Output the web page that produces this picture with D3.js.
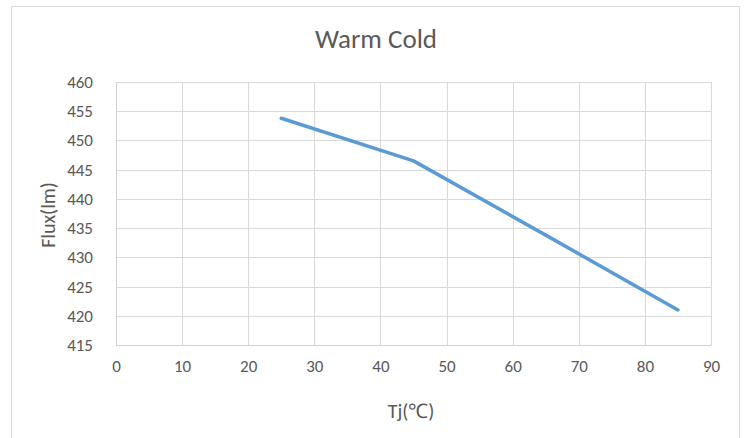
<!DOCTYPE html>
<html>
<head>
<meta charset="utf-8">
<script src="https://cdn.jsdelivr.net/npm/d3@7"></script>
<style>
  html, body { margin: 0; padding: 0; background: #fff; }
  svg { display: block; font-family: Carlito, Calibri, "Liberation Sans", Arial, sans-serif; }
</style>
</head>
<body>
<svg id="chart" width="747" height="438"></svg>
<script>
const chartTitle = "Warm Cold";
const xTitle = "Tj(℃)";
const yTitle = "Flux(lm)";
const tj = [25, 45, 65, 85];
const flux = [453.8, 446.5, 433.8, 421.0];
const xTicks = [0, 10, 20, 30, 40, 50, 60, 70, 80, 90];
const yTicks = [415, 420, 425, 430, 435, 440, 445, 450, 455, 460];

const svg = d3.select("#chart");
const plot = { left: 116, right: 711, top: 82, bottom: 345 };

// chart border
svg.append("rect")
  .attr("x", 11.5).attr("y", 6.5)
  .attr("width", 728).attr("height", 440)
  .attr("fill", "#fff").attr("stroke", "#d9d9d9").attr("stroke-width", 1);

const x = d3.scaleLinear().domain([0, 90]).range([plot.left, plot.right]);
const y = d3.scaleLinear().domain([415, 460]).range([plot.bottom, plot.top]);

// gridlines
const grid = svg.append("g").attr("stroke", "#d9d9d9").attr("stroke-width", 1);
grid.selectAll("line.h").data(yTicks).join("line")
  .attr("x1", plot.left).attr("x2", plot.right)
  .attr("y1", d => Math.round(y(d)) + 0.5).attr("y2", d => Math.round(y(d)) + 0.5);
grid.selectAll("line.v").data(xTicks).join("line")
  .attr("y1", plot.top).attr("y2", plot.bottom)
  .attr("x1", d => Math.round(x(d)) + 0.5).attr("x2", d => Math.round(x(d)) + 0.5);

// axes (labels only)
const xAxis = d3.axisBottom(x).tickValues(xTicks).tickSize(0).tickPadding(15);
const yAxis = d3.axisLeft(y).tickValues(yTicks).tickSize(0).tickPadding(23);

const gx = svg.append("g").attr("transform", `translate(0,${plot.bottom})`).call(xAxis);
const gy = svg.append("g").attr("transform", `translate(${plot.left},0)`).call(yAxis);
[gx, gy].forEach(g => {
  g.select(".domain").attr("stroke", "#d0d0d0");
  g.selectAll("text").attr("fill", "#595959").attr("font-size", 17)
    .style("font-family", 'Carlito, Calibri, "Liberation Sans", Arial, sans-serif');
});

// line
const line = d3.line().x((d, i) => x(tj[i])).y(d => y(d));
svg.append("path")
  .datum(flux)
  .attr("d", line)
  .attr("fill", "none")
  .attr("stroke", "#5b9bd5")
  .attr("stroke-width", 3.5)
  .attr("stroke-linecap", "round")
  .attr("stroke-linejoin", "round");

// titles
svg.append("text").attr("x", 376).attr("y", 48)
  .attr("text-anchor", "middle").attr("font-size", 27).attr("fill", "#595959")
  .text(chartTitle);
svg.append("text").attr("x", 411).attr("y", 418)
  .attr("text-anchor", "middle").attr("font-size", 20).attr("fill", "#595959")
  .text(xTitle);
svg.append("text")
  .attr("transform", "translate(55,215) rotate(-90)")
  .attr("text-anchor", "middle").attr("font-size", 20).attr("fill", "#595959")
  .text(yTitle);
</script>
</body>
</html>
